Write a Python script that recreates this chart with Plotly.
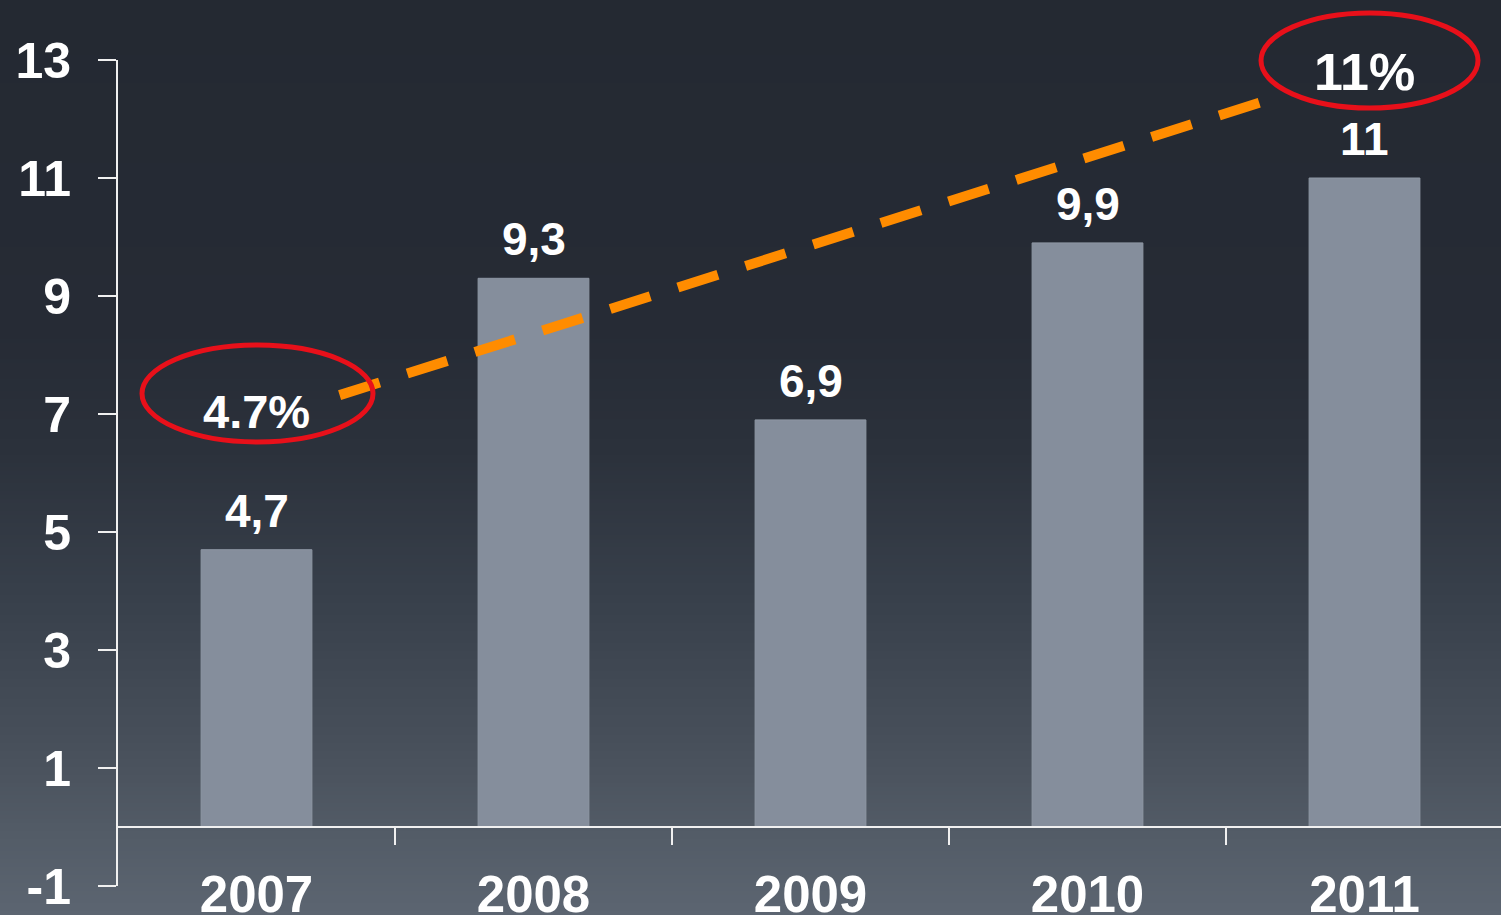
import plotly.graph_objects as go

# ---------------- data ----------------
years = ["2007", "2008", "2009", "2010", "2011"]
values = [4.7, 9.3, 6.9, 9.9, 11]
y_ticks = [-1, 1, 3, 5, 7, 9, 11, 13]
growth_labels = ["4.7%", "11%"]
trend_x = [0.30, 3.65]
trend_y = [7.32, 12.32]

# ---------------- geometry helpers (decoration only) ----------------
W, H = 1501, 915
ML, MR, MT, MB = 118, 0, 60, 29
PW = W - ML - MR
PH = H - MT - MB
BAND = 277.0  # px per category


def px_to_paper_x(px):
    return (px - ML) / PW


def px_to_paper_y(py):
    return (H - MB - py) / PH


def hex_to_rgb(h):
    h = h.lstrip("#")
    return tuple(int(h[i:i + 2], 16) for i in (0, 2, 4))


def lerp_color(stops, py):
    for (p0, c0), (p1, c1) in zip(stops, stops[1:]):
        if p0 <= py <= p1:
            t = (py - p0) / (p1 - p0) if p1 > p0 else 0
            a, b = hex_to_rgb(c0), hex_to_rgb(c1)
            return "rgb(%d,%d,%d)" % tuple(round(a[i] + (b[i] - a[i]) * t) for i in range(3))
    return stops[-1][1]


grad_stops = [(0, "#242932"), (330, "#262b35"), (450, "#2b313b"), (600, "#38404b"),
              (750, "#48505b"), (829, "#525b66"), (915, "#5c6571")]

shapes = []
step = 4
for py in range(0, H + step, step):
    shapes.append(dict(
        type="rect", xref="paper", yref="paper", layer="below",
        x0=px_to_paper_x(-5), x1=px_to_paper_x(W + 5),
        y0=px_to_paper_y(py + step + 1), y1=px_to_paper_y(py - 1),
        fillcolor=lerp_color(grad_stops, min(py + step / 2, H)), line=dict(width=0),
    ))

# red ellipses around growth callouts
for (l, r, t, b) in [(142, 373, 345, 442), (1261, 1478, 13, 108)]:
    shapes.append(dict(
        type="circle", xref="paper", yref="paper", layer="above",
        x0=px_to_paper_x(l), x1=px_to_paper_x(r),
        y0=px_to_paper_y(b), y1=px_to_paper_y(t),
        line=dict(color="#e8101a", width=5),
    ))

FONT = "Liberation Sans, Arial, sans-serif"
idx = list(range(len(years)))
x_range = [-0.5, -0.5 + PW / BAND]

fig = go.Figure()

fig.add_trace(go.Bar(
    x=idx, y=values, width=0.4,
    marker=dict(color="#858e9c", line=dict(color="#8e97a4", width=1)),
    hoverinfo="skip", showlegend=False,
))

fig.add_trace(go.Scatter(
    x=trend_x, y=trend_y, mode="lines",
    line=dict(color="#ff8c00", width=10, dash="42px,29px"),
    hoverinfo="skip", showlegend=False,
))

# invisible helper trace for the boundary-tick axis
fig.add_trace(go.Scatter(
    x=idx, y=values, xaxis="x2", yaxis="y", mode="markers",
    marker=dict(opacity=0), hoverinfo="skip", showlegend=False,
))

annotations = []
for i, v in enumerate(values):
    annotations.append(dict(
        x=i, y=v, xref="x", yref="y", text=f"{v:g}".replace(".", ","),
        showarrow=False, yanchor="bottom", yshift=11,
        font=dict(family=FONT, size=46, color="white", weight="bold"),
    ))

annotations.append(dict(
    x=0, y=7.05, xref="x", yref="y", text=growth_labels[0], showarrow=False,
    yanchor="middle", xanchor="center",
    font=dict(family=FONT, size=47, color="white", weight="bold"),
))
annotations.append(dict(
    x=4, y=12.8, xref="x", yref="y", text=growth_labels[1], showarrow=False,
    yanchor="middle", xanchor="center",
    font=dict(family=FONT, size=52, color="white", weight="bold"),
))

fig.update_layout(
    width=W, height=H,
    margin=dict(l=ML, r=MR, t=MT, b=MB, pad=0, autoexpand=False),
    paper_bgcolor="#333a44", plot_bgcolor="rgba(0,0,0,0)",
    shapes=shapes, annotations=annotations,
    showlegend=False,
    xaxis=dict(
        range=x_range, tickvals=idx, ticktext=years,
        anchor="free", position=0.032, automargin=False,
        showline=False, ticks="", showgrid=False, zeroline=False,
        tickfont=dict(family=FONT, size=51, color="white", weight="bold"),
        fixedrange=True,
    ),
    xaxis2=dict(
        range=x_range, overlaying="x", anchor="free", position=1 / 14,
        side="bottom", automargin=False,
        tickvals=[i + 0.5 for i in idx[:-1]],
        showticklabels=False, ticks="outside", ticklen=17, tickwidth=2,
        tickcolor="#f0f0f0", showline=True, linecolor="#f0f0f0", linewidth=2,
        showgrid=False, zeroline=False, fixedrange=True,
    ),
    yaxis=dict(
        range=[-1, 13], tickvals=y_ticks, ticktext=[str(v) for v in y_ticks],
        automargin=False,
        ticks="outside", ticklen=18, tickwidth=2, tickcolor="#f0f0f0",
        showline=True, linecolor="#f0f0f0", linewidth=2,
        showgrid=False, zeroline=False,
        tickfont=dict(family=FONT, size=50, color="white", weight="bold"),
        ticklabelstandoff=17, fixedrange=True,
    ),
)

fig.write_html("out.html", config={"displayModeBar": False})
